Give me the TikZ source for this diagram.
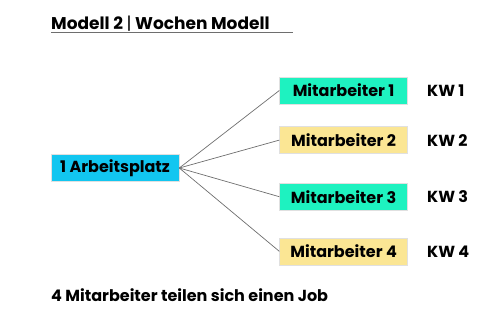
\documentclass[tikz,border=0pt]{standalone}
\usepackage{fontspec}
\setmainfont{Poppins}
\usetikzlibrary{positioning}
\definecolor{PlatzBlue}{HTML}{12C6F0}
\definecolor{StaffGreen}{HTML}{1EF2C0}
\definecolor{StaffGold}{HTML}{FBE694}
\definecolor{LinkGray}{HTML}{6E6E6E}

\begin{document}
\begin{tikzpicture}[x=1pt,y=1pt,every node/.style={font=\fontsize{16}{18}\selectfont\bfseries,align=center},
  box/.style={draw=black!12,line width=.6pt,minimum width=128pt,minimum height=27pt,inner sep=0pt},
  link/.style={draw=LinkGray,line width=.7pt}]
  \useasboundingbox (0,0) rectangle (500,-325);
  % title with rule
  \node[anchor=base west,inner sep=0pt,font=\fontsize{17}{19}\selectfont\bfseries] (title) at (51,-29) {Modell 2 {\fontseries{m}\selectfont|} Wochen Modell};
  \coordinate (rulea) at (51,-32.5);
  \coordinate (ruleb) at (293,-32.5);
  \draw[LinkGray,line width=.8pt] (rulea) -- (ruleb);
  % workplace and staff
  \node[box,fill=PlatzBlue] (platz) at (115,-168) {1 Arbeitsplatz};
  \node[box,fill=StaffGreen,right=100pt of platz,yshift=77.5pt] (ma1) {Mitarbeiter 1};
  \node[box,fill=StaffGold,below=22pt of ma1] (ma2) {Mitarbeiter 2};
  \node[box,fill=StaffGreen,below=29pt of ma2] (ma3) {Mitarbeiter 3};
  \node[box,fill=StaffGold,below=27pt of ma3] (ma4) {Mitarbeiter 4};
  \node[right=19pt of ma1,inner sep=0pt] (kw1) {KW 1};
  \node[right=19pt of ma2,inner sep=0pt] (kw2) {KW 2};
  \node[right=19pt of ma3,inner sep=0pt] (kw3) {KW 3};
  \node[right=19pt of ma4,inner sep=0pt] (kw4) {KW 4};
  \draw[link] (platz.east) -- (ma1.west);
  \draw[link] (platz.east) -- (ma2.west);
  \draw[link] (platz.east) -- (ma3.west);
  \draw[link] (platz.east) -- (ma4.west);
  % caption
  \node[anchor=base west,inner sep=0pt] (job) at (51,-301) {4 Mitarbeiter teilen sich einen Job};
\end{tikzpicture}
\end{document}
